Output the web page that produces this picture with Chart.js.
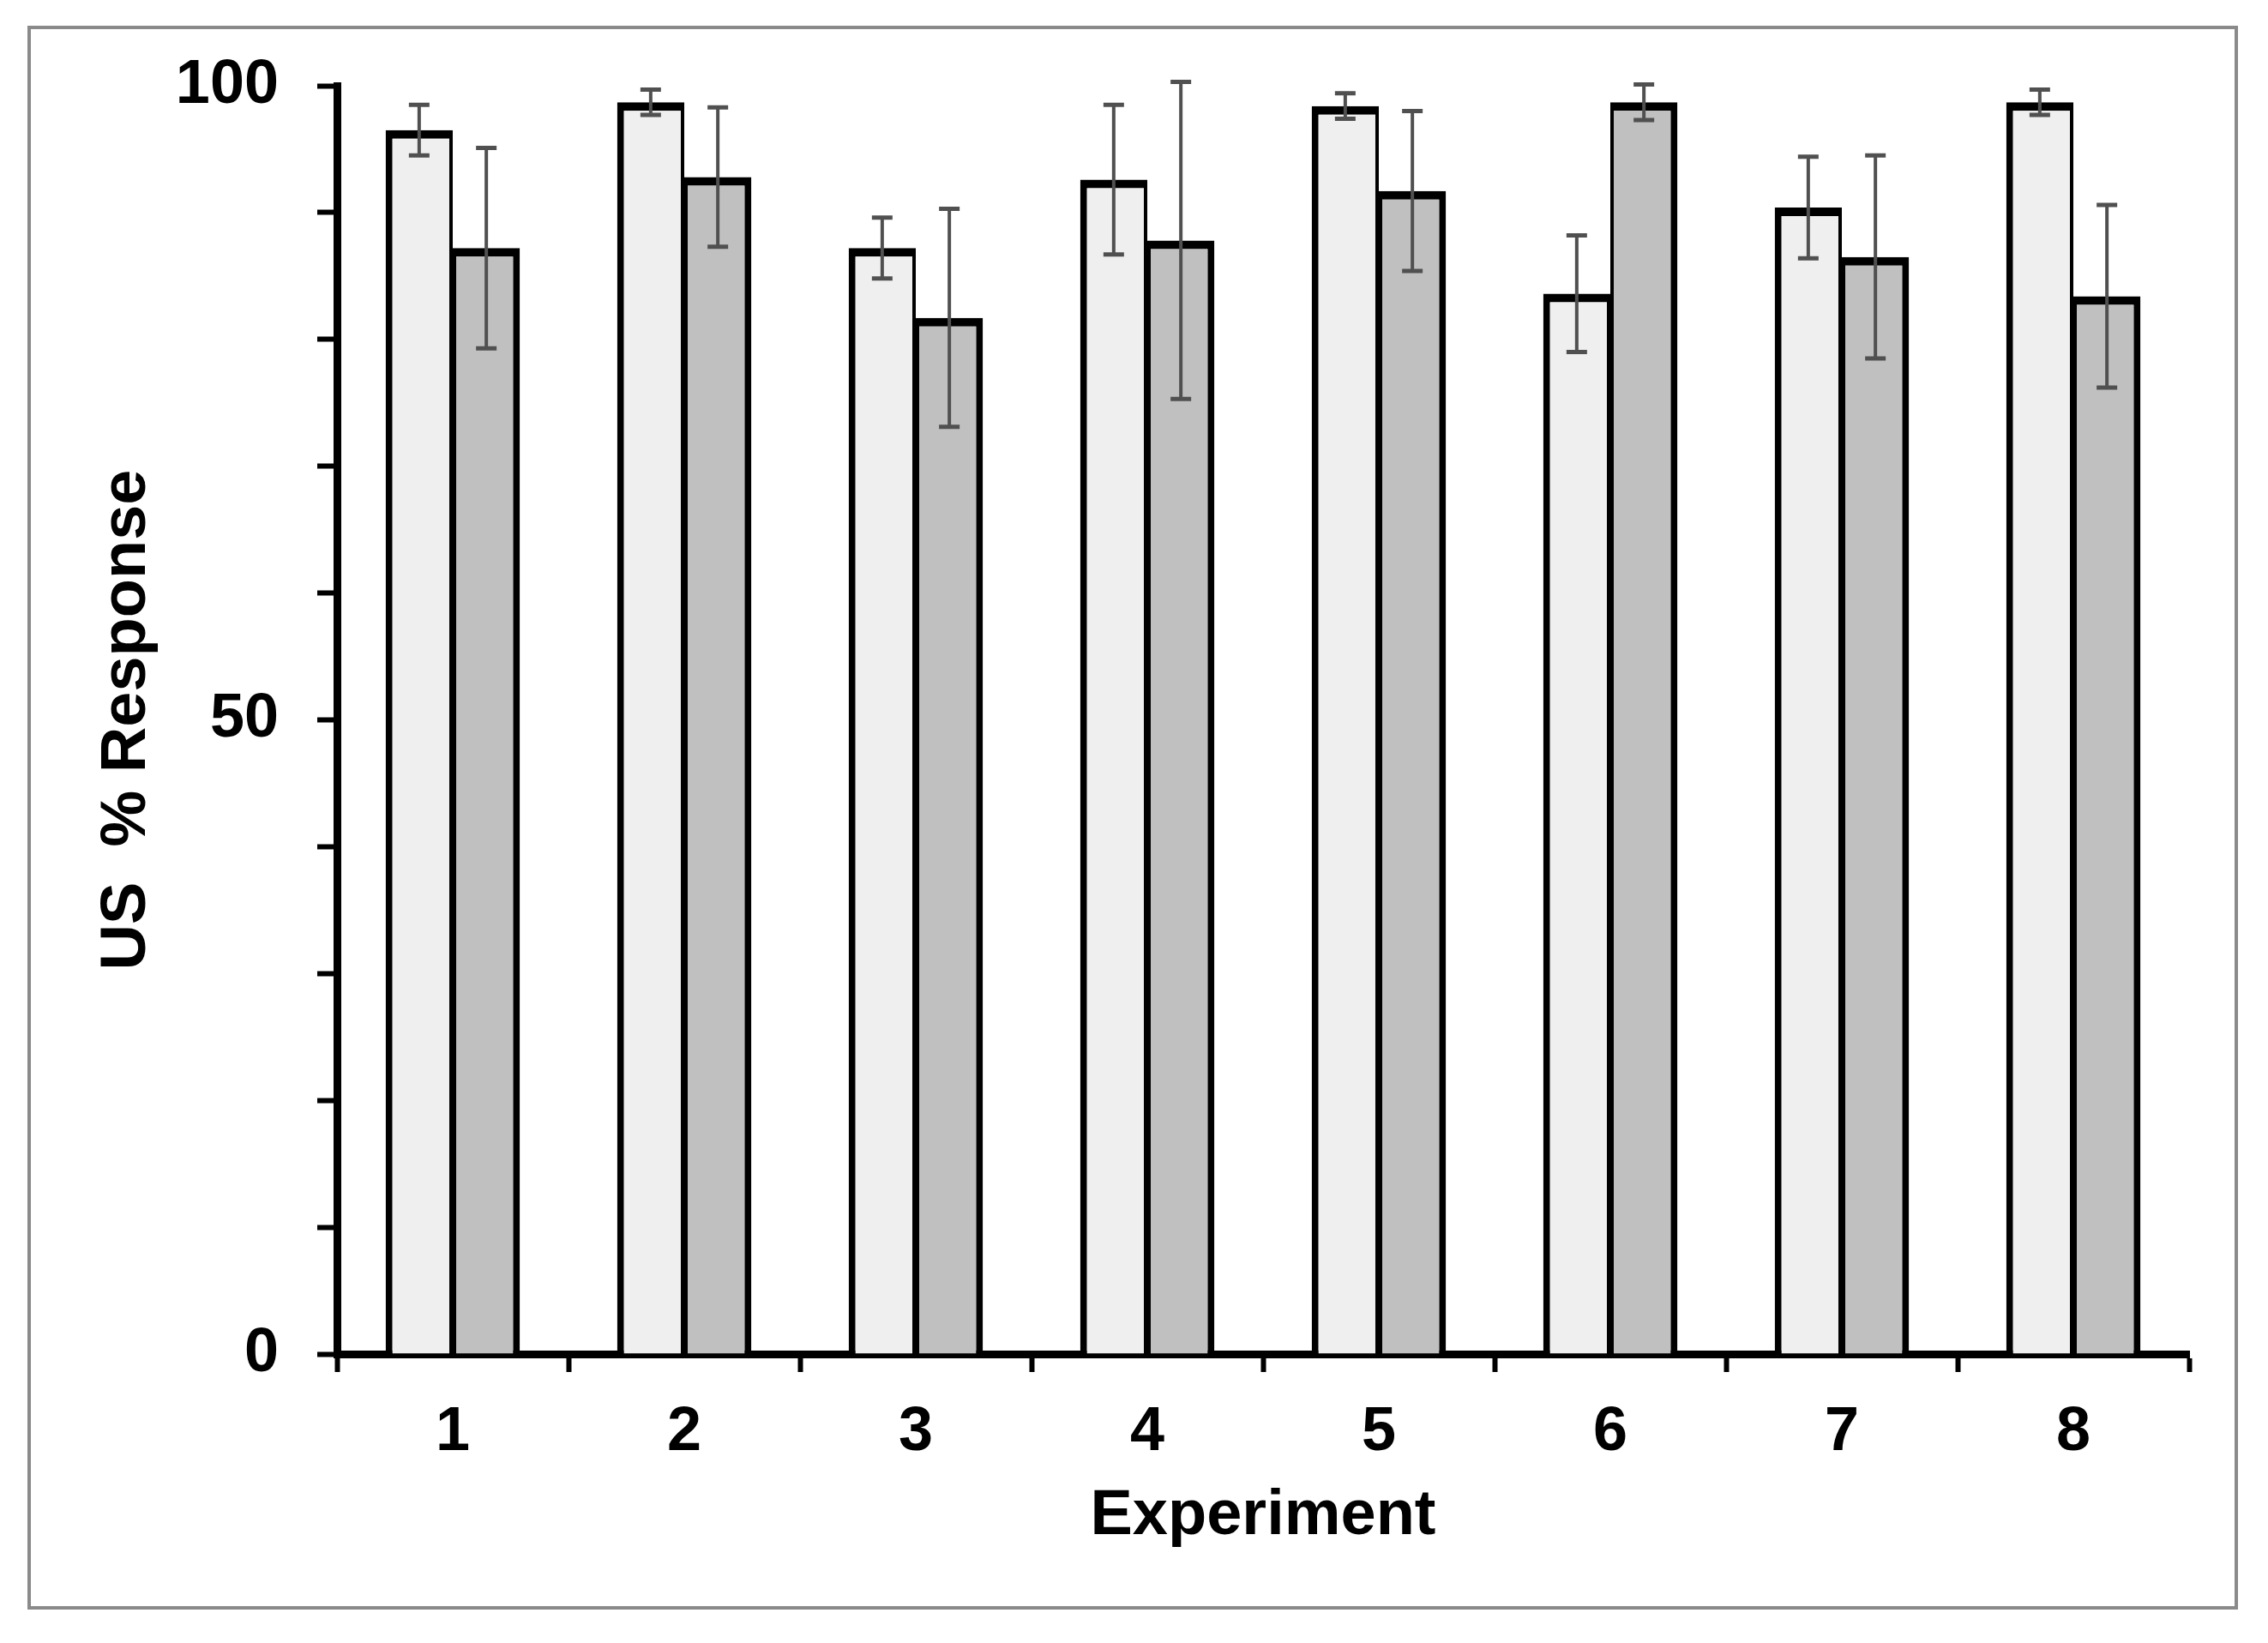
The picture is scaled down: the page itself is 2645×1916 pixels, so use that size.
<!DOCTYPE html>
<html>
<head>
<meta charset="utf-8">
<title>US % Response</title>
<script src="https://cdn.jsdelivr.net/npm/chart.js"></script>
<style>
  body { margin: 0; background: #ffffff; }
  #wrap { position: relative; width: 2645px; height: 1916px; }
  #frame {
    position: absolute; left: 32px; top: 30px; width: 2578px; height: 1847px;
    border: 4px solid #8a8a8a; box-sizing: border-box;
  }
  #myChart { position: absolute; left: 0; top: 0; }
</style>
</head>
<body>
<div id="wrap">
  <div id="frame"></div>
  <canvas id="myChart" width="2645" height="1916"></canvas>
</div>
<script>
// data
const experiments = ['1', '2', '3', '4', '5', '6', '7', '8'];
const lightValues = [96.5, 98.7, 87.2, 92.6, 98.4, 83.6, 90.4, 98.7];
const lightErrors = [2.0, 1.0, 2.4, 5.9, 1.0, 4.6, 4.0, 1.0];
const darkValues = [87.2, 92.8, 81.7, 87.8, 91.7, 98.7, 86.5, 83.4];
const darkErrors = [7.9, 5.5, 8.6, 12.5, 6.3, 1.4, 8.0, 7.2];
const yLabelTicks = [0, 50, 100];

// error bars, drawn on top of the bars using the y scale
var errorBars = {
  id: 'errorBars',
  afterDatasetsDraw: function (chart) {
    var ctx = chart.ctx;
    var yScale = chart.scales.y;
    chart.data.datasets.forEach(function (ds, i) {
      var meta = chart.getDatasetMeta(i);
      meta.data.forEach(function (bar, j) {
        var v = ds.data[j];
        var e = ds.errors[j];
        var yTop = yScale.getPixelForValue(v + e);
        var yBot = yScale.getPixelForValue(v - e);
        var x = bar.x;
        ctx.save();
        ctx.strokeStyle = '#505050';
        ctx.lineWidth = 4;
        ctx.beginPath();
        ctx.moveTo(x, yTop);
        ctx.lineTo(x, yBot);
        ctx.stroke();
        ctx.lineWidth = 5;
        ctx.beginPath();
        ctx.moveTo(x - 12, yTop);
        ctx.lineTo(x + 12, yTop);
        ctx.moveTo(x - 12, yBot);
        ctx.lineTo(x + 12, yBot);
        ctx.stroke();
        ctx.restore();
      });
    });
  }
};

const data = {
  labels: experiments,
  datasets: [
    {
      label: 'A',
      data: lightValues,
      errors: lightErrors,
      backgroundColor: '#efefef',
      borderColor: '#000000',
      borderWidth: { left: 8, top: 10, right: 4, bottom: 0 },
      borderSkipped: 'start'
    },
    {
      label: 'B',
      data: darkValues,
      errors: darkErrors,
      backgroundColor: '#c0c0c0',
      borderColor: '#000000',
      borderWidth: { left: 4, top: 10, right: 8, bottom: 0 },
      borderSkipped: 'start'
    }
  ]
};

const config = {
  type: 'bar',
  data: data,
  options: {
    responsive: false,
    animation: false,
    devicePixelRatio: 1,
    categoryPercentage: 0.58,
    barPercentage: 1.0,
    layout: { padding: { left: 0, top: 100, right: 92, bottom: 0 } },
    plugins: {
      legend: { display: false },
      tooltip: { enabled: false }
    },
    scales: {
      x: {
        grid: {
          drawOnChartArea: false,
          offset: true,
          color: '#000000',
          tickLength: 21,
          tickWidth: 6
        },
        border: { color: '#000000', width: 9 },
        ticks: {
          color: '#000000',
          padding: 28,
          font: { family: 'Liberation Sans', size: 72, weight: 'bold' }
        },
        title: {
          display: true,
          text: 'Experiment',
          color: '#000000',
          padding: { top: 0, bottom: 103 },
          font: { family: 'Liberation Sans', size: 74, weight: 'bold' }
        },
        afterFit: function (scale) { scale.height = 337; }
      },
      y: {
        min: 0,
        max: 100,
        grid: {
          drawOnChartArea: false,
          color: '#000000',
          tickLength: 23,
          tickWidth: 6
        },
        border: { color: '#000000', width: 9 },
        ticks: {
          stepSize: 10,
          color: '#000000',
          padding: 45,
          font: { family: 'Liberation Sans', size: 72, weight: 'bold' },
          callback: function (value) {
            return yLabelTicks.indexOf(value) >= 0 ? String(value) : '';
          }
        },
        title: {
          display: true,
          text: 'US  % Response',
          color: '#000000',
          padding: { top: 104, bottom: 0 },
          font: { family: 'Liberation Sans', size: 74, weight: 'bold' }
        },
        afterFit: function (scale) { scale.width = 393; }
      }
    }
  },
  plugins: [errorBars]
};

const myChart = new Chart(document.getElementById('myChart'), config);
</script>
</body>
</html>
